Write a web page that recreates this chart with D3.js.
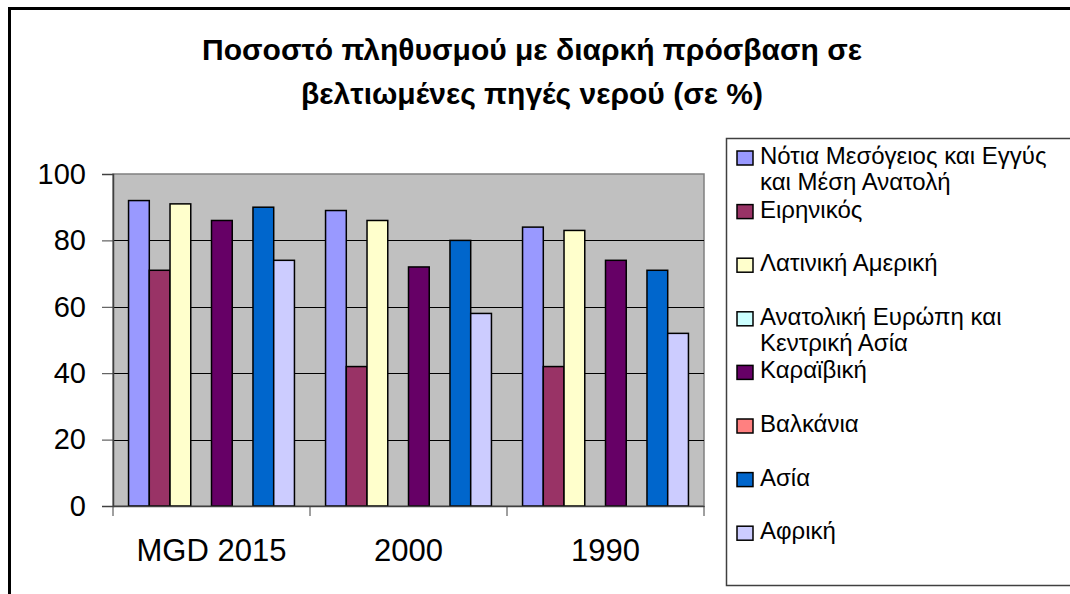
<!DOCTYPE html>
<html>
  <head>
    <title>Πρόσβαση σε νερό</title>
    <meta charset="utf-8">
    <script src="https://d3js.org/d3.v7.min.js"></script>
    <style>
      body { margin: 0; background: #fff; }
      text { font-family: "Liberation Sans", Arial, sans-serif; }
    </style>
  </head>

  <body>

    <svg width="1070" height="594"></svg>

    <script>

      var categories = ["MGD 2015", "2000", "1990"];

      var seriesNames = [
        "Νότια Μεσόγειος και Εγγύς και Μέση Ανατολή",
        "Ειρηνικός",
        "Λατινική Αμερική",
        "Ανατολική Ευρώπη και Κεντρική Ασία",
        "Καραϊβική",
        "Βαλκάνια",
        "Ασία",
        "Αφρική"
      ];

      // legend lines (wrapped like the original)
      var legendLines = [
        ["Νότια Μεσόγειος και Εγγύς", "και Μέση Ανατολή"],
        ["Ειρηνικός"],
        ["Λατινική Αμερική"],
        ["Ανατολική Ευρώπη και", "Κεντρική Ασία"],
        ["Καραϊβική"],
        ["Βαλκάνια"],
        ["Ασία"],
        ["Αφρική"]
      ];

      var seriesColors = ["#9999FF", "#993366", "#FFFFCC", "#CCFFFF",
                          "#660066", "#FF8080", "#0066CC", "#CCCCFF"];

      // one row per series, one value per category (null = no bar)
      var seriesValues = [
        [92, 89, 84],
        [71, 42, 42],
        [91, 86, 83],
        [null, null, null],
        [86, 72, 74],
        [null, null, null],
        [90, 80, 71],
        [74, 58, 52]
      ];

      var yTicks = [0, 20, 40, 60, 80, 100];

      var titleLines = ["Ποσοστό πληθυσμού με διαρκή πρόσβαση σε",
                        "βελτιωμένες πηγές νερού (σε %)"];

      var svg = d3.select("svg"),
          plot = {left: 113, right: 704, top: 174, bottom: 506};

      // outer chart frame (runs off the right/bottom edge)
      svg.append("rect")
          .attr("x", 9.5).attr("y", 8.5)
          .attr("width", 1100).attr("height", 620)
          .attr("fill", "#fff")
          .attr("stroke", "#000")
          .attr("stroke-width", 3);

      svg.selectAll(".title")
          .data(titleLines)
        .enter().append("text")
          .attr("class", "title")
          .attr("x", 532)
          .attr("y", function(d, i) { return 60 + i * 44; })
          .attr("text-anchor", "middle")
          .attr("font-size", 30)
          .attr("font-weight", "bold")
          .text(function(d) { return d; });

      var x0 = d3.scaleBand()
          .domain(categories)
          .range([plot.left, plot.right]);

      var x1 = d3.scaleBand()
          .domain(d3.range(seriesNames.length))
          .range([0, x0.bandwidth()])
          .paddingInner(0)
          .paddingOuter(0.75);

      var y = d3.scaleLinear()
          .domain([0, 100])
          .range([plot.bottom, plot.top]);

      // plot background
      svg.append("rect")
          .attr("x", plot.left).attr("y", plot.top)
          .attr("width", plot.right - plot.left)
          .attr("height", plot.bottom - plot.top)
          .attr("fill", "#C0C0C0")
          .attr("stroke", "#808080")
          .attr("stroke-width", 1.5);

      // gridlines
      svg.append("g")
          .selectAll("line")
          .data(yTicks.filter(function(d) { return d > 0 && d < 100; }))
        .enter().append("line")
          .attr("x1", plot.left).attr("x2", plot.right)
          .attr("y1", function(d) { return Math.round(y(d)) + 0.5; })
          .attr("y2", function(d) { return Math.round(y(d)) + 0.5; })
          .attr("stroke", "#000");

      // bars
      var groups = svg.append("g")
          .selectAll("g")
          .data(seriesValues)
        .enter().append("g")
          .attr("fill", function(d, i) { return seriesColors[i]; });

      groups.selectAll("rect")
          .data(function(d, i) {
            return d.map(function(v, j) { return {s: i, c: categories[j], v: v}; })
                    .filter(function(e) { return e.v != null; });
          })
        .enter().append("rect")
          .attr("x", function(d) { return x0(d.c) + x1(d.s); })
          .attr("y", function(d) { return y(d.v); })
          .attr("width", x1.bandwidth())
          .attr("height", function(d) { return plot.bottom - y(d.v); })
          .attr("stroke", "#000")
          .attr("stroke-width", 1.5);

      // y axis
      var yAxis = svg.append("g")
          .attr("transform", "translate(" + plot.left + ",0)")
          .call(d3.axisLeft(y).tickValues(yTicks).tickSize(11).tickPadding(16));

      yAxis.select(".domain").attr("stroke", "#404040").attr("stroke-width", 1.5);
      yAxis.selectAll(".tick line").attr("stroke", "#404040");
      yAxis.selectAll(".tick text")
          .attr("font-family", "Liberation Sans, Arial, sans-serif")
          .attr("font-size", 29)
          .attr("fill", "#000");

      // x axis: ticks at group boundaries
      var xAxis = svg.append("g")
          .attr("transform", "translate(0," + plot.bottom + ")")
          .call(d3.axisBottom(x0).tickSize(0).tickPadding(33));

      xAxis.select(".domain").attr("stroke", "#404040").attr("stroke-width", 1.5);
      xAxis.selectAll(".tick text")
          .attr("font-family", "Liberation Sans, Arial, sans-serif")
          .attr("font-size", 31)
          .attr("fill", "#000");

      xAxis.selectAll(".boundary")
          .data(categories.map(function(c) { return x0(c); }).concat([plot.right]))
        .enter().append("line")
          .attr("class", "boundary")
          .attr("x1", function(d) { return d; })
          .attr("x2", function(d) { return d; })
          .attr("y1", 0).attr("y2", 10)
          .attr("stroke", "#404040");

      // legend
      var legend = svg.append("g");

      legend.append("rect")
          .attr("x", 726.5).attr("y", 138.5)
          .attr("width", 400).attr("height", 447)
          .attr("fill", "#fff")
          .attr("stroke", "#404040")
          .attr("stroke-width", 1.5);

      var item = legend.selectAll(".item")
          .data(legendLines)
        .enter().append("g")
          .attr("class", "item")
          .attr("transform", function(d, i) { return "translate(737," + (151 + i * 53.6) + ")"; });

      item.append("rect")
          .attr("width", 16).attr("height", 14)
          .attr("fill", function(d, i) { return seriesColors[i]; })
          .attr("stroke", "#000")
          .attr("stroke-width", 1.5);

      item.append("text")
          .attr("x", 23)
          .attr("y", 13)
          .attr("font-size", 24)
          .selectAll("tspan")
          .data(function(d) { return d; })
        .enter().append("tspan")
          .attr("x", 23)
          .attr("dy", function(d, i) { return i === 0 ? 0 : 26; })
          .text(function(d) { return d; });

    </script>
  </body>
</html>
